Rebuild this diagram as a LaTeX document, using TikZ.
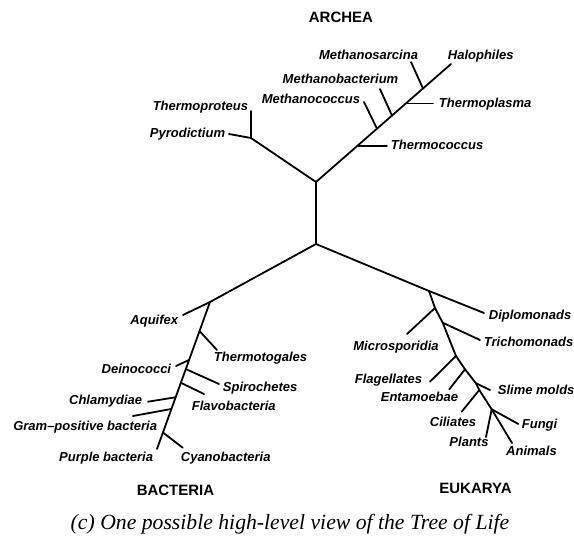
\documentclass[tikz,border=0pt]{standalone}
\usepackage{fontspec}
\newfontfamily\taxfont{Liberation Sans}
\newfontfamily\capfont{Liberation Serif}

\begin{document}
\begin{tikzpicture}[x=1pt, y=-1pt, line width=1.8pt, line cap=round,
  taxon/.style={font=\taxfont\fontsize{13}{15}\selectfont\bfseries\itshape,
    inner sep=0pt, text height=9.5pt, text depth=2.5pt},
  kingdom/.style={font=\taxfont\fontsize{15}{18}\selectfont\bfseries, inner sep=0pt}]
  \useasboundingbox (0,0) rectangle (574,537);
  % Root and the three main forks
  \coordinate (archfork) at (316,182);
  \coordinate (rootfork) at (316,244);
  \coordinate (bactfork) at (210,302);
  \coordinate (eukfork) at (429,291);
  \draw (archfork) -- (rootfork);
  \draw (bactfork) -- (rootfork) -- (eukfork);
  % Archea: crenarchaeota to the left, euryarchaeota to the right
  \coordinate (crenfork) at (251,138);
  \coordinate (thprot-end) at (251,111);
  \coordinate (pyro-end) at (229,134);
  \coordinate (halo-end) at (451,64);
  \coordinate (tcoc-j) at (358,146);   \coordinate (tcoc-end) at (387,146);
  \coordinate (mcoc-j) at (377,128.7); \coordinate (mcoc-end) at (364,102);
  \coordinate (mbac-j) at (392,115.6); \coordinate (mbac-end) at (380,89);
  \coordinate (tpla-j) at (407,103.5); \coordinate (tpla-end) at (433,103.5);
  \coordinate (msar-j) at (423,88.5);  \coordinate (msar-end) at (411,62);
  \draw (archfork) -- (crenfork) -- (thprot-end);
  \draw (crenfork) -- (pyro-end);
  \draw (archfork) -- (halo-end);
  \foreach \t in {tcoc, mcoc, mbac, tpla, msar}
    \draw (\t-j) -- (\t-end);
  % Bacteria stem, top to bottom
  \coordinate (aqui-end) at (183,315);
  \coordinate (ttog-j) at (199.5,331);   \coordinate (ttog-end) at (217,350);
  \coordinate (dein-j) at (189,360);     \coordinate (dein-end) at (176,366);
  \coordinate (spir-j) at (185.7,369);   \coordinate (spir-end) at (219,384);
  \coordinate (flav-j) at (180.7,382.7); \coordinate (flav-end) at (204,394);
  \coordinate (chla-j) at (175.4,397.3); \coordinate (chla-end) at (148,401.7);
  \coordinate (gram-j) at (171.2,409);   \coordinate (gram-end) at (133,416);
  \coordinate (cyan-j) at (162.7,432.3); \coordinate (cyan-end) at (182.7,447.7);
  \coordinate (purp-end) at (157,449);
  \draw (bactfork) -- (aqui-end);
  \draw (bactfork) -- (purp-end);
  \foreach \t in {ttog, dein, spir, flav, chla, gram, cyan}
    \draw (\t-j) -- (\t-end);
  % Eukarya stem, top to bottom
  \coordinate (dipl-end) at (484,313);
  \coordinate (micr-j) at (435,308);     \coordinate (micr-end) at (407,334);
  \coordinate (tric-j) at (442.7,322.7); \coordinate (tric-end) at (480,340);
  \coordinate (flag-j) at (456,356);     \coordinate (flag-end) at (430,381.7);
  \coordinate (enta-j) at (465,369.3);   \coordinate (enta-end) at (449.3,389.3);
  \coordinate (slim-j) at (476,383.3);   \coordinate (slim-end) at (490,390);
  \coordinate (cili-j) at (479.3,390);   \coordinate (cili-end) at (461.7,411.7);
  \coordinate (fung-j) at (491.7,409.3); \coordinate (fung-end) at (518.3,424);
  \coordinate (plan-j) at (491.7,409.3); \coordinate (plan-end) at (486,437);
  \coordinate (anim-end) at (512,443);
  \draw (eukfork) -- (dipl-end);
  \draw (eukfork) -- (micr-j) -- (tric-j) -- (flag-j) -- (enta-j) -- (slim-j)
    -- (cili-j) -- (fung-j) -- (anim-end);
  \foreach \t in {micr, tric, flag, enta, slim, cili, fung, plan}
    \draw (\t-j) -- (\t-end);
  % Taxon labels
  \node[taxon, anchor=east] (thermoproteus) at (249,107) {Thermoproteus};
  \node[taxon, anchor=east] (pyrodictium) at (226,134) {Pyrodictium};
  \node[taxon, anchor=east] (methanococcus) at (361,100) {Methanococcus};
  \node[taxon] (methanobacterium) at (340.5,80) {Methanobacterium};
  \node[taxon] (methanosarcina) at (368.5,56) {Methanosarcina};
  \node[taxon, anchor=west] (halophiles) at (447,56) {Halophiles};
  \node[taxon, anchor=west] (thermoplasma) at (438,104) {Thermoplasma};
  \node[taxon, anchor=west] (thermococcus) at (390,146) {Thermococcus};
  \node[taxon, anchor=east] (aquifex) at (179,321) {Aquifex};
  \node[taxon, anchor=west] (thermotogales) at (213,358) {Thermotogales};
  \node[taxon, anchor=east] (deinococci) at (172,370) {Deinococci};
  \node[taxon, anchor=west] (spirochetes) at (222,388) {Spirochetes};
  \node[taxon, anchor=west] (flavobacteria) at (191,407) {Flavobacteria};
  \node[taxon, anchor=east] (chlamydiae) at (143,401) {Chlamydiae};
  \node[taxon, anchor=east] (grampos) at (158,427) {Gram–positive bacteria};
  \node[taxon, anchor=east] (purple) at (154,458) {Purple bacteria};
  \node[taxon, anchor=west] (cyanobacteria) at (180,458) {Cyanobacteria};
  \node[taxon, anchor=west] (diplomonads) at (488,316) {Diplomonads};
  \node[taxon] (microsporidia) at (396,347) {Microsporidia};
  \node[taxon, anchor=west] (trichomonads) at (483,343) {Trichomonads};
  \node[taxon, anchor=east] (flagellates) at (423,380) {Flagellates};
  \node[taxon] (entamoebae) at (419.5,398) {Entamoebae};
  \node[taxon, anchor=west] (slimemolds) at (497,391) {Slime molds};
  \node[taxon] (ciliates) at (453,423) {Ciliates};
  \node[taxon, anchor=west] (fungi) at (521,425) {Fungi};
  \node[taxon] (plants) at (469,443) {Plants};
  \node[taxon] (animals) at (531.5,452) {Animals};
  % Domain names and caption
  \node[kingdom] (archea) at (341,17) {ARCHEA};
  \node[kingdom] (bacteria) at (175.5,490) {BACTERIA};
  \node[kingdom] (eukarya) at (475.5,488) {EUKARYA};
  \node[font=\capfont\fontsize{21.7}{26}\selectfont\itshape, inner sep=0pt] (caption)
    at (290,524) {(c) One possible high-level view of the Tree of Life};
\end{tikzpicture}
\end{document}
